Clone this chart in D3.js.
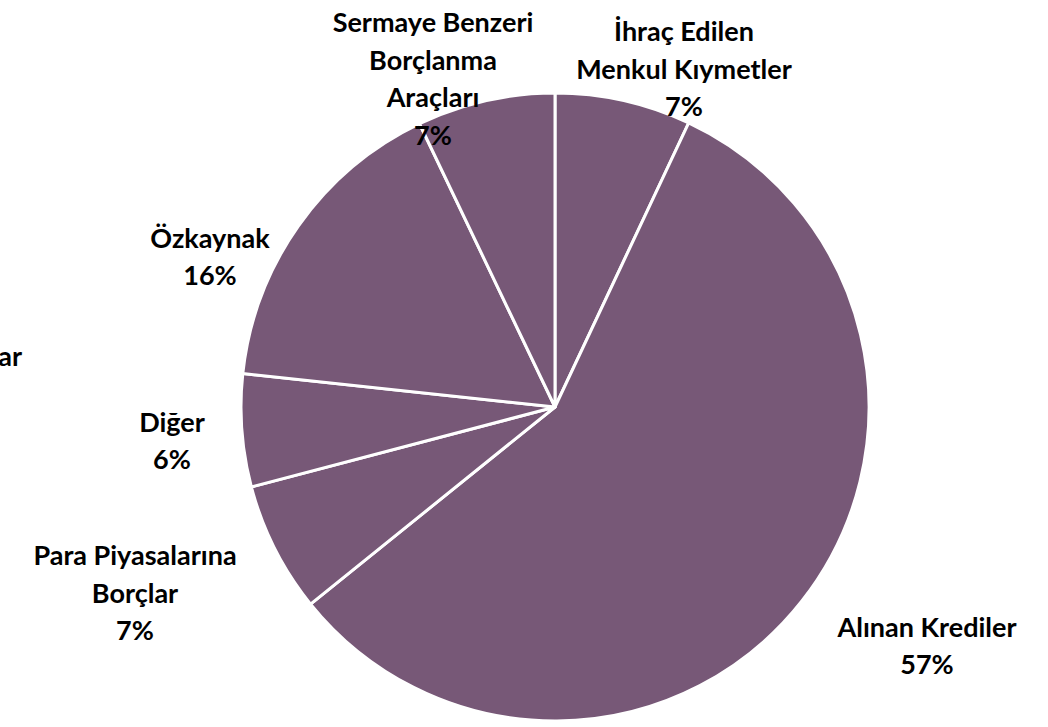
<!DOCTYPE html>
<html>
<head>
<meta charset="utf-8">
<script src="https://cdn.jsdelivr.net/npm/d3@7"></script>
<style>
  body { margin: 0; background: #fff; }
  text { font-family: Lato, "Open Sans", sans-serif; font-weight: 700; fill: #000; }
</style>
</head>
<body>
<svg id="chart" width="1048" height="727"></svg>
<script>
// slices, clockwise from 12 o'clock
var names = ["İhraç Edilen Menkul Kıymetler", "Alınan Krediler", "Para Piyasalarına Borçlar",
             "Diğer", "Özkaynak", "Sermaye Benzeri Borçlanma Araçları"];
var values = [7.0, 57.2, 6.7, 5.8, 16.2, 7.1];
var pctLabels = ["7%", "57%", "7%", "6%", "16%", "7%"];
var labelLines = [
  ["İhraç Edilen", "Menkul Kıymetler"],
  ["Alınan Krediler"],
  ["Para Piyasalarına", "Borçlar"],
  ["Diğer"],
  ["Özkaynak"],
  ["Sermaye Benzeri", "Borçlanma", "Araçları"]
];

var svg = d3.select("#chart"),
    cx = 555, cy = 407, radius = 314;

var g = svg.append("g")
    .attr("transform", "translate(" + cx + "," + cy + ")");

var pie = d3.pie().sort(null).value(d => d)(values);
var arc = d3.arc().innerRadius(0).outerRadius(radius);

g.selectAll("path")
  .data(pie)
  .enter()
  .append("path")
  .attr("d", arc)
  .attr("fill", "#775877")
  .attr("stroke", "#fff")
  .attr("stroke-width", 3)
  .attr("stroke-linejoin", "round");

// label block centres (offset from pie centre), as Excel placed them
var labelAt = [[129, -339], [372, 238], [-420, 185], [-383, 33], [-345, -151], [-122, -329]];
var lineH = 37.5;

pie.forEach(function (d, i) {
  var lines = labelLines[i].concat([pctLabels[i]]);
  var top = labelAt[i][1] - (lines.length - 1) * lineH / 2;
  var t = g.append("text")
    .attr("text-anchor", "middle")
    .style("font-size", "27px");
  lines.forEach(function (l, j) {
    t.append("tspan")
      .attr("x", labelAt[i][0])
      .attr("y", top + j * lineH)
      .attr("dominant-baseline", "central")
      .text(l);
  });
});

// label of a tiny slice that falls off the left edge
svg.append("text")
  .attr("text-anchor", "end")
  .attr("x", 22)
  .attr("y", 355)
  .attr("dominant-baseline", "central")
  .style("font-size", "27px")
  .text("Karşılıklar");
</script>
</body>
</html>
